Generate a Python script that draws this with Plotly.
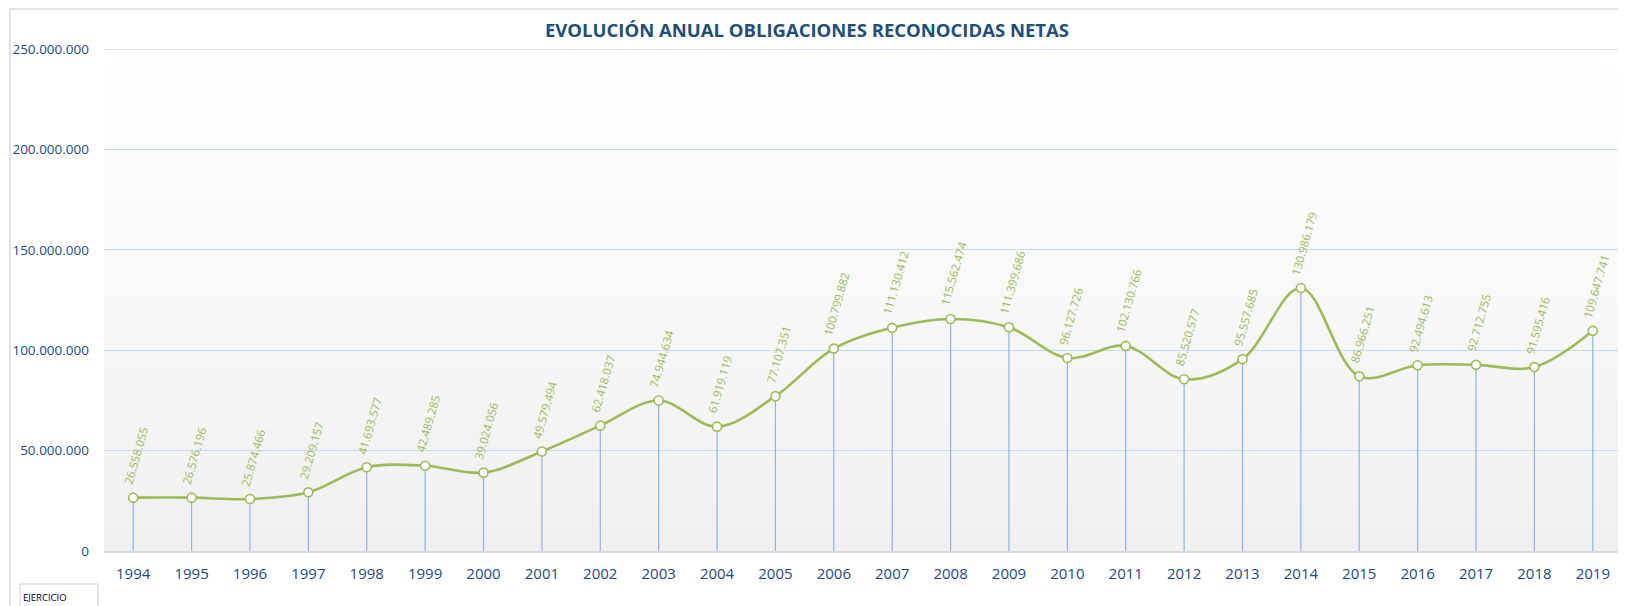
import plotly.graph_objects as go

years = [str(y) for y in range(1994, 2020)]
values = [26558055, 26576196, 25874466, 29209157, 41693577, 42489285, 39024056,
          49579494, 62418037, 74944634, 61919119, 77107351, 100799882, 111130412,
          115562474, 111399686, 96127726, 102130766, 85520577, 95557685, 130986179,
          86966251, 92494613, 92712755, 91595416, 109647741]
y_ticks = [0, 50000000, 100000000, 150000000, 200000000, 250000000]
title_text = "EVOLUCIÓN ANUAL OBLIGACIONES RECONOCIDAS NETAS"
x_axis_name = "EJERCICIO"

def fmt(v):
    return f"{v:,}".replace(",", ".")

# the page body has an 8px margin, so the figure starts at page (8, 8)
OFF = 8
W, H = 1626, 606
# target page coordinates of the plot area
P_LEFT, P_RIGHT, P_TOP, P_BOTTOM = 104, 1622, 49, 551
L = P_LEFT - OFF
R = W - (P_RIGHT - OFF)
T = P_TOP - OFF
B = H - (P_BOTTOM - OFF)
pw, ph = W - L - R, H - T - B
y_top = 250000000 * (P_BOTTOM - P_TOP) / 502.0

def px_x(px):
    return (px - OFF - L) / pw

def px_y(py):
    return (H - B - (py - OFF)) / ph

GREEN = "#9BBB59"
BLUE_TXT = "#1F497D"
DROP = "#8DB3E2"
GRID = "#C9DAF0"

fig = go.Figure()

# drop lines from each point to the axis
dx, dy = [], []
for c, v in zip(years, values):
    dx += [c, c, None]
    dy += [0, v, None]
fig.add_trace(go.Scatter(x=dx, y=dy, mode="lines",
                         line=dict(color=DROP, width=1.2),
                         hoverinfo="skip", showlegend=False))

fig.add_trace(go.Scatter(x=years, y=values, mode="lines+markers",
                         line=dict(color=GREEN, width=2.6, shape="spline", smoothing=1.0),
                         marker=dict(size=9, color="white", line=dict(color=GREEN, width=1.6)),
                         showlegend=False))

annotations = []
for i, v in enumerate(values):
    annotations.append(dict(x=i, y=v, xref="x", yref="y", text=fmt(v), showarrow=False,
                            textangle=-74, xanchor="center", yanchor="bottom",
                            yshift=9, xshift=3,
                            font=dict(family="Open Sans", size=11.5, color=GREEN)))

annotations.append(dict(x=px_x(21), y=px_y(597), xref="paper", yref="paper",
                        text=x_axis_name, showarrow=False, xanchor="left", yanchor="middle",
                        font=dict(family="Open Sans", size=9.5, color="black")))

shapes = []
# vertical gradient background
n = 50
top_col = (255, 255, 255)
bot_col = (240, 240, 240)
for i in range(n):
    f = i / (n - 1)
    r = round(bot_col[0] + (top_col[0] - bot_col[0]) * f)
    g = round(bot_col[1] + (top_col[1] - bot_col[1]) * f)
    b = round(bot_col[2] + (top_col[2] - bot_col[2]) * f)
    shapes.append(dict(type="rect", xref="paper", yref="paper",
                       x0=0, x1=1, y0=i / n, y1=(i + 1) / n + 0.002,
                       fillcolor=f"rgb({r},{g},{b})", line=dict(width=0), layer="below"))
# top gridline (plotly skips the gridline at the range edge)
shapes.append(dict(type="line", xref="paper", yref="y", x0=0, x1=1,
                   y0=y_ticks[-1], y1=y_ticks[-1], line=dict(color=GRID, width=1.6),
                   layer="below"))
# chart border
shapes.append(dict(type="line", xref="paper", yref="paper", x0=px_x(10), x1=px_x(10),
                   y0=px_y(9), y1=px_y(620), line=dict(color="#D9D9D9", width=1.5)))
shapes.append(dict(type="line", xref="paper", yref="paper", x0=px_x(10), x1=px_x(1640),
                   y0=px_y(9), y1=px_y(9), line=dict(color="#D9D9D9", width=1.5)))
# EJERCICIO box
shapes.append(dict(type="rect", xref="paper", yref="paper", x0=px_x(20), x1=px_x(98),
                   y0=px_y(612), y1=px_y(584), line=dict(color="#D0D0D0", width=1),
                   fillcolor="white"))

fig.update_layout(
    width=W, height=H,
    margin=dict(l=L, r=R, t=T, b=B, autoexpand=False),
    paper_bgcolor="white",
    plot_bgcolor="white",
    title=dict(text=title_text, x=(807 - OFF) / W, xanchor="center",
               y=1 - (31 - OFF) / H, yanchor="middle",
               font=dict(family="Open Sans", size=18.5, color="#1F4E79", weight="bold")),
    xaxis=dict(type="category", range=[-0.5, len(years) - 0.5], showgrid=False,
               showline=True, linecolor="#D9D9D9", linewidth=2, ticks="",
               automargin=False, ticklabelstandoff=8,
               tickfont=dict(family="Open Sans", size=15, color=BLUE_TXT)),
    yaxis=dict(range=[0, y_top], tickvals=y_ticks, ticktext=[fmt(t) for t in y_ticks],
               showgrid=True, gridcolor=GRID, gridwidth=1.2, zeroline=False, ticks="",
               ticklabelstandoff=14, automargin=False,
               tickfont=dict(family="Open Sans", size=13.5, color=BLUE_TXT)),
    annotations=annotations,
    shapes=shapes,
)

fig.write_html("out.html")
